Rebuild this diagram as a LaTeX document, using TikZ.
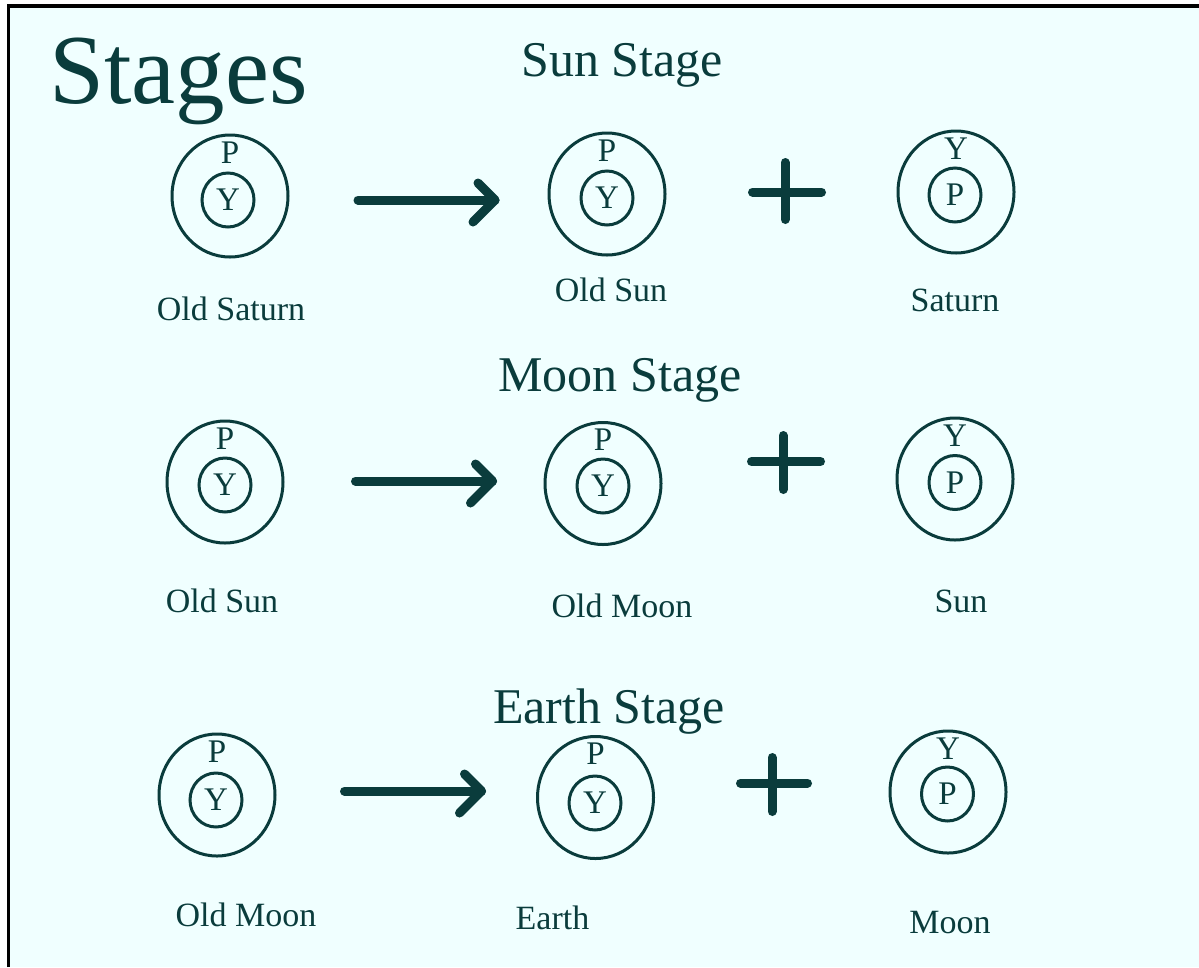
\documentclass[tikz,border=0pt]{standalone}
\usepackage{fontspec}
\setmainfont{Liberation Serif}
\usetikzlibrary{calc,shapes.geometric}
\definecolor{bg}{RGB}{240,255,255}
\definecolor{ink}{RGB}{10,60,60}
\tikzset{
  outerc/.style={ellipse, draw=ink, line width=3pt, minimum width=116pt, minimum height=122pt, inner sep=0pt},
  innerc/.style={ellipse, draw=ink, line width=3pt, minimum width=52pt, minimum height=54pt, inner sep=0pt, text=ink, font=\fontsize{33}{36}\selectfont},
  lettr/.style={inner sep=0pt, text=ink, font=\fontsize{33}{36}\selectfont},
  lbl/.style={inner sep=0pt, text=ink, font=\fontsize{34}{38}\selectfont},
  ttl/.style={inner sep=0pt, text=ink, anchor=base, font=\fontsize{50}{56}\selectfont},
  shaft/.style={draw=ink, line width=9pt, line cap=round, line join=round},
}
% name, outer centre, inner centre, top letter, inner letter
\newcommand{\body}[5]{%
  \node[outerc] (#1) at (#2) {};
  \node[innerc] (#1i) at (#3) {#5};
  \node[lettr, anchor=north] (#1t) at ([yshift=-8pt]#1.north) {#4};
}
\newcommand{\chev}[1]{%
  \draw[shaft] ($(#1)+(-17,-17)$) -- (#1) -- ($(#1)+(-22,22)$);
}
\begin{document}
\begin{tikzpicture}[x=1pt,y=-1pt]
\useasboundingbox (0,0) rectangle (1199,967);
\fill[white] (0,0) rectangle (1199,967);
\fill[bg] (8.5,6) rectangle (1199,967);
\draw[black, line width=3.5pt] (8.5,967) -- (8.5,6) -- (1199,6);

% titles
\node[ttl, anchor=base west, font=\fontsize{99}{104}\selectfont] (stages) at (49,103) {Stages};
\node[ttl] (t1) at (622,76) {Sun Stage};
\node[ttl] (t2) at (620,391) {Moon Stage};
\node[ttl] (t3) at (609,723) {Earth Stage};

% row 1
\body{a1}{230,196}{228,200}{P}{Y}
\body{b1}{607,194}{607,198}{P}{Y}
\body{c1}{956,192}{955,195}{Y}{P}
\node[lbl] (la1) at (231,309) {Old Saturn};
\node[lbl] (lb1) at (611,290) {Old Sun};
\node[lbl] (lc1) at (955,300) {Saturn};
\coordinate (s1) at (358,200);
\coordinate (e1) at (495,200);
\draw[shaft] (s1) -- (e1);
\chev{e1}
\draw[shaft] (752.5,192) -- (821.5,192);
\draw[shaft] (785,162.5) -- (785,219.5);

% row 2
\body{a2}{225,482}{225,485}{P}{Y}
\body{b2}{603,483.5}{603,486}{P}{Y}
\body{c2}{955,479}{955,482.5}{Y}{P}
\node[lbl] (la2) at (222,601) {Old Sun};
\node[lbl] (lb2) at (622,606) {Old Moon};
\node[lbl] (lc2) at (961,601) {Sun};
\coordinate (s2) at (355.5,481);
\coordinate (e2) at (492.5,481);
\draw[shaft] (s2) -- (e2);
\chev{e2}
\draw[shaft] (751.5,461.5) -- (820.5,461.5);
\draw[shaft] (783,435.5) -- (783,489.5);

% row 3
\body{a3}{217,795}{216,800}{P}{Y}
\body{b3}{595.5,797.5}{595,803}{P}{Y}
\body{c3}{948,792}{947.5,794}{Y}{P}
\node[lbl] (la3) at (246,914.5) {Old Moon};
\node[lbl] (lb3) at (552.5,918) {Earth};
\node[lbl] (lc3) at (950,922.5) {Moon};
\coordinate (s3) at (344.5,791);
\coordinate (e3) at (481.5,791);
\draw[shaft] (s3) -- (e3);
\chev{e3}
\draw[shaft] (740.5,783) -- (807.5,783);
\draw[shaft] (772,757.5) -- (772,811.5);
\end{tikzpicture}
\end{document}
